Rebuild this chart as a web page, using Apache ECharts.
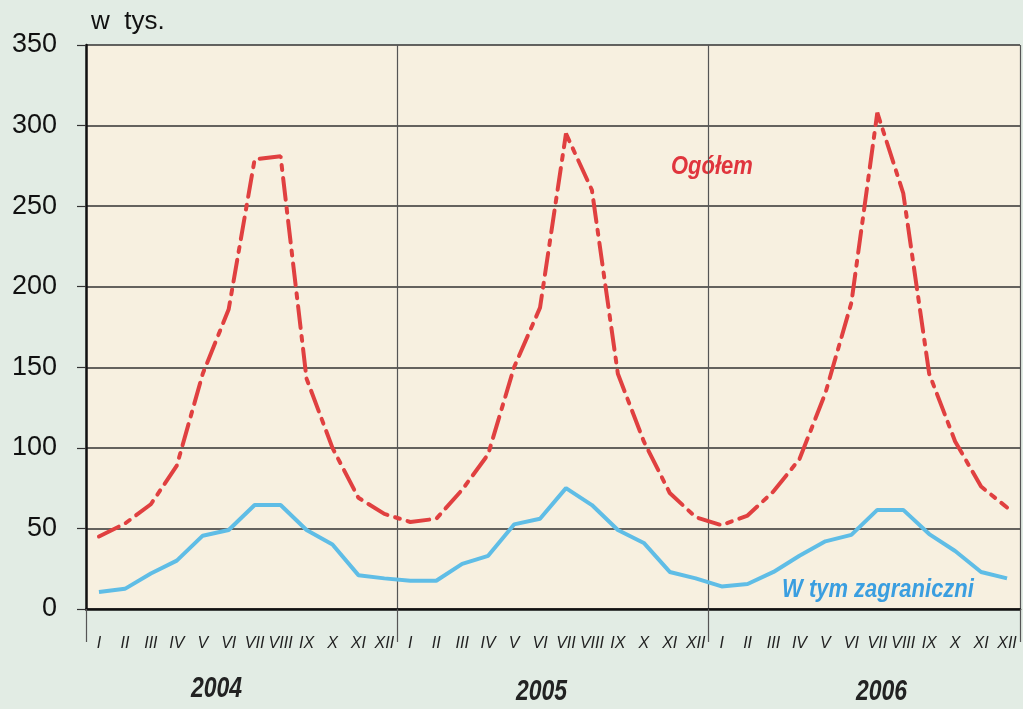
<!DOCTYPE html>
<html>
<head>
<meta charset="UTF-8">
<title>w tys.</title>
<script src="https://cdn.jsdelivr.net/npm/echarts@6/dist/echarts.min.js"></script>
<style>
	html, body { margin: 0; padding: 0; background: #e2ece4; }
</style>
</head>
<body>
	<div id="container" style="width:1023px;height:709px;"></div>
	<script type="text/javascript">
	var months = ['I','II','III','IV','V','VI','VII','VIII','IX','X','XI','XII'];
	var years = ['2004','2005','2006'];
	var yTicks = [0, 50, 100, 150, 200, 250, 300, 350];

	// Ogółem
	var total2004 = [45, 53, 65, 89, 146, 186, 279, 281, 143, 100, 69, 59];
	var total2005 = [54, 56, 74, 96, 150, 187, 295, 260, 146, 104, 72, 57];
	var total2006 = [52, 58, 73, 93, 134, 190, 308, 258, 146, 104, 76, 63];
	// W tym zagraniczni
	var foreign2004 = [10.5, 12.5, 22, 30, 45.5, 49, 64.5, 64.5, 49, 40, 21, 19];
	var foreign2005 = [17.5, 17.5, 28, 33, 52.5, 56, 75, 64.5, 49, 41, 23, 19];
	var foreign2006 = [14, 15.5, 23, 33, 42, 46, 61.5, 61.5, 46.5, 36, 23, 19];

	var xAxisData = months.concat(months, months);
	var total = total2004.concat(total2005, total2006);
	var foreign = foreign2004.concat(foreign2005, foreign2006);

	var dom = document.getElementById("container");
	var myChart = echarts.init(dom);
	var font = 'Liberation Sans, Arial, sans-serif';

	// podpisy tekstowe (lata, nazwy serii, jednostka)
	function label(text, x, y, size, color, style, sy) {
		return {
			type: 'text', x: x, y: y, scaleY: sy || 1,
			style: { text: text, fill: color, font: style + ' ' + size + 'px ' + font, verticalAlign: 'middle' }
		};
	}

	var option = {
		backgroundColor: '#e2ece4',
		animation: false,
		textStyle: { fontFamily: font },
		grid: {
			left: 86, right: 3, top: 45, bottom: 100,
			show: true, backgroundColor: '#f7f0e0', borderWidth: 0
		},
		xAxis: [
			{
				type: 'category',
				data: xAxisData,
				boundaryGap: true,
				position: 'bottom',
				axisLine: { lineStyle: { color: '#111', width: 2.5 } },
				axisTick: { interval: 0, length: 8, lineStyle: { color: '#222', width: 1.2 } },
				axisLabel: {
					interval: 0, margin: 27, color: '#222',
					fontSize: 16, fontStyle: 'italic', fontFamily: font
				},
				splitLine: { show: false }
			},
			{
				type: 'category',
				data: years,
				boundaryGap: true,
				position: 'bottom',
				axisLine: { show: false },
				axisTick: { show: true, length: 33, lineStyle: { color: '#555', width: 1.2 } },
				axisLabel: { show: false },
				splitLine: { show: true, lineStyle: { color: '#555', width: 1.2 } }
			}
		],
		yAxis: {
			type: 'value',
			min: yTicks[0],
			max: yTicks[yTicks.length - 1],
			interval: 50,
			axisLine: { show: true, lineStyle: { color: '#111', width: 2.5 } },
			axisTick: { show: true, length: 9, lineStyle: { color: '#333', width: 1.2 } },
			axisLabel: { color: '#111', fontSize: 27, margin: 29, fontFamily: font },
			splitLine: { show: true, lineStyle: { color: '#333', width: 1.5 } }
		},
		graphic: [
			label('w  tys.', 91, 22, 26, '#111', 'normal'),
			label(years[0], 191, 689, 23, '#222', 'italic bold', 1.3),
			label(years[1], 516, 692, 23, '#222', 'italic bold', 1.3),
			label(years[2], 856, 692, 23, '#222', 'italic bold', 1.3),
			label('Ogółem', 671, 167, 22, '#e0353d', 'italic bold', 1.2),
			label('W tym zagraniczni', 782, 590, 22, '#3a9ee0', 'italic bold', 1.2)
		],
		series: [
			{
				name: 'Ogółem',
				type: 'line',
				data: total,
				symbol: 'none',
				lineStyle: { color: '#e04040', width: 4, type: [22, 8, 5, 8], cap: 'round' },
				z: 3
			},
			{
				name: 'W tym zagraniczni',
				type: 'line',
				data: foreign,
				symbol: 'none',
				lineStyle: { color: '#5fbde6', width: 4 },
				z: 3
			}
		]
	};

	myChart.setOption(option);
	</script>
</body>
</html>
